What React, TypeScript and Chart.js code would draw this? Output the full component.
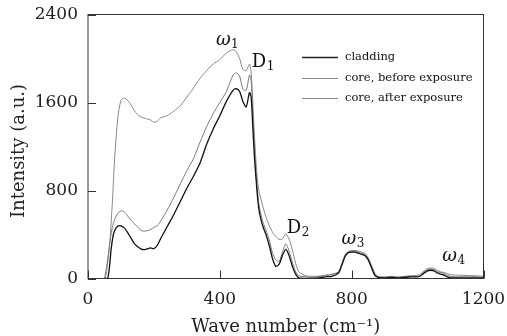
import React, { useEffect, useRef } from "react";
import { Chart, registerables } from "chart.js";

Chart.register(...registerables);

const waveNumbers = [
  50, 55, 60, 65, 70, 75, 80, 90, 100, 110, 120, 130, 140, 150, 160, 170, 180, 190, 200,
  210, 220, 240, 260, 280, 300, 320, 340, 360, 380, 400, 420, 440, 450, 460, 470, 480, 490, 495,
  500, 505, 510, 515, 520, 530, 540, 550, 560, 570, 580, 590, 600, 610, 620, 630, 640, 660, 680,
  700, 720, 740, 760, 770, 780, 790, 800, 810, 820, 830, 840, 850, 860, 870, 880, 900, 920, 940,
  960, 980, 1000, 1010, 1020, 1030, 1040, 1050, 1060, 1070, 1080, 1090, 1100, 1120, 1140, 1160,
  1180, 1200,
];

const cladding = [
  0, 0, 5, 100, 260, 370, 430, 475, 478, 460, 420, 370, 320, 290, 270, 262, 270, 278, 272,
  300, 360, 470, 580, 700, 820, 930, 1050, 1220, 1360, 1480, 1610, 1710, 1725, 1700, 1610, 1560,
  1690, 1650, 1380, 1100, 900, 720, 600, 480, 400, 300, 180, 110, 130, 210, 265, 210, 110, 40,
  5, 0, 0, 5, 15, 20, 50, 120, 200, 235, 240, 240, 230, 220, 210, 170, 100, 30, 10, 5, 10, 5,
  10, 15, 15, 25, 50, 70, 75, 70, 50, 40, 30, 15, 5, 5, 5, 5, 5, 5,
];

const coreBefore = [
  0, 80, 180, 300, 400, 480, 530, 590, 615, 605, 570, 530, 500, 470, 440, 430, 435, 445, 465,
  480, 520, 620, 735, 860, 980, 1090, 1240, 1380, 1500, 1600, 1700, 1850, 1870, 1840, 1720, 1710,
  1850, 1800, 1500, 1200, 950, 770, 650, 520, 440, 350, 230, 170, 155, 240, 315, 250, 150, 60,
  25, 15, 10, 20, 30, 40, 60, 130, 210, 240, 250, 250, 240, 230, 220, 180, 110, 40, 15, 10, 15,
  10, 15, 20, 20, 30, 60, 80, 85, 80, 60, 55, 45, 30, 20, 15, 20, 20, 15, 10,
];

const coreAfter = [
  0, 40, 150, 280, 500, 750, 1050, 1450, 1620, 1640, 1620, 1580, 1530, 1490, 1470, 1460,
  1450, 1440, 1420, 1430, 1460, 1480, 1520, 1570, 1650, 1730, 1820, 1890, 1950, 1990, 2050, 2080,
  2060, 2000, 1900, 1890, 1950, 1870, 1600, 1300, 1050, 870, 780, 660, 560, 480, 420, 380, 355,
  360, 405, 360, 260, 140, 60, 25, 20, 20, 25, 35, 60, 130, 215, 245, 255, 255, 250, 240, 230,
  190, 120, 50, 20, 15, 20, 15, 20, 25, 30, 45, 70, 90, 95, 90, 75, 60, 55, 45, 35, 30, 30, 25,
  25, 20,
];

const seriesLabels = ["cladding", "core, before exposure", "core, after exposure"];
const xTicks = [0, 400, 800, 1200];
const yTicks = [0, 800, 1600, 2400];

// peak labels: [symbol, subscript, wave number, intensity]
const peakLabels: [string, string, number, number][] = [
  ["ω", "1", 388, 2125],
  ["D", "1", 497, 1920],
  ["D", "2", 603, 410],
  ["ω", "3", 769, 315],
  ["ω", "4", 1075, 155],
];

const SERIF = "'DejaVu Serif', serif";

const framePlugin = {
  id: "frameAndExtras",
  afterDraw(chart: any) {
    const { ctx, chartArea } = chart;
    const xs = chart.scales.x;
    const ys = chart.scales.y;
    ctx.save();
    ctx.strokeStyle = "#333";
    ctx.lineWidth = 1;
    ctx.strokeRect(chartArea.left, chartArea.top, chartArea.right - chartArea.left, chartArea.bottom - chartArea.top);
    ctx.beginPath();
    const tl = 8;
    for (const v of xTicks) {
      const px = Math.round(xs.getPixelForValue(v)) + 0.5;
      ctx.moveTo(px, chartArea.bottom);
      ctx.lineTo(px, chartArea.bottom - tl);
    }
    for (const v of yTicks) {
      const py = Math.round(ys.getPixelForValue(v)) + 0.5;
      ctx.moveTo(chartArea.left, py);
      ctx.lineTo(chartArea.left + tl, py);
    }
    ctx.stroke();

    // peak labels
    ctx.fillStyle = "#111";
    ctx.textBaseline = "alphabetic";
    ctx.textAlign = "left";
    for (const [sym, sub, xv, yv] of peakLabels) {
      const px = xs.getPixelForValue(xv);
      const py = ys.getPixelForValue(yv);
      const italic = sym === "ω";
      ctx.font = (italic ? "italic " : "") + "18px " + SERIF;
      ctx.fillText(sym, px, py);
      const w = ctx.measureText(sym).width;
      ctx.font = "12px " + SERIF;
      ctx.fillText(sub, px + w + 0.5, py + 3);
    }

    // legend
    const rows = [57, 78, 98];
    ctx.font = "11.5px " + SERIF;
    ctx.textBaseline = "middle";
    chart.data.datasets.forEach((d: any, i: number) => {
      ctx.strokeStyle = d.legendColor;
      ctx.lineWidth = i === 0 ? 1.3 : 1;
      ctx.beginPath();
      ctx.moveTo(302, rows[i] + 0.5);
      ctx.lineTo(338, rows[i] + 0.5);
      ctx.stroke();
      ctx.fillStyle = "#111";
      ctx.fillText(d.label, 345, rows[i]);
    });
    ctx.restore();
  },
};

const zeroPad = (s: any) => {
  s.paddingTop = 0;
  s.paddingBottom = 0;
  s.paddingLeft = 0;
  s.paddingRight = 0;
};

export default function App() {
  const ref = useRef<HTMLCanvasElement>(null);
  useEffect(() => {
    if (!ref.current) return;
    const mk = (vals: number[]) => waveNumbers.map((x, i) => ({ x, y: vals[i] }));
    const chart = new Chart(ref.current, {
      type: "line",
      data: {
        datasets: [
          { label: seriesLabels[0], data: mk(cladding), borderColor: "#111", borderWidth: 1.3, legendColor: "#222" } as any,
          { label: seriesLabels[1], data: mk(coreBefore), borderColor: "#7a7a7a", borderWidth: 1, legendColor: "#888" } as any,
          { label: seriesLabels[2], data: mk(coreAfter), borderColor: "#888", borderWidth: 1, legendColor: "#888" } as any,
        ],
      },
      options: {
        animation: false,
        responsive: false,
        events: [],
        elements: { point: { radius: 0 }, line: { tension: 0.25 } },
        layout: { padding: { left: 0, top: 14.5, right: 23.5, bottom: 0 } },
        plugins: { legend: { display: false }, tooltip: { enabled: false } },
        scales: {
          x: {
            type: "linear",
            min: 0,
            max: 1200,
            afterBuildTicks: (s: any) => { s.ticks = xTicks.map((v) => ({ value: v })); },
            afterFit: (s: any) => { s.height = 57.5; zeroPad(s); },
            grid: { display: false, drawTicks: false },
            border: { display: false },
            ticks: { font: { family: SERIF, size: 17 }, color: "#222", padding: 11, maxRotation: 0, callback: (v: any) => String(v) },
            title: { display: true, text: "Wave number (cm⁻¹)", font: { family: SERIF, size: 18 }, color: "#222", padding: { top: 0, bottom: -2 } },
          },
          y: {
            type: "linear",
            min: 0,
            max: 2400,
            afterBuildTicks: (s: any) => { s.ticks = yTicks.map((v) => ({ value: v })); },
            afterFit: (s: any) => { s.width = 88; zeroPad(s); },
            grid: { display: false, drawTicks: false },
            border: { display: false },
            ticks: { font: { family: SERIF, size: 17 }, color: "#222", padding: 10, callback: (v: any) => String(v) },
            title: { display: true, text: "Intensity (a.u.)\u2002", font: { family: SERIF, size: 18 }, color: "#222", padding: { top: 9, bottom: 0 } },
          },
        },
      } as any,
      plugins: [framePlugin],
    });
    return () => chart.destroy();
  }, []);
  return (
    <div style={{ position: "fixed", left: 0, top: 0, width: 507, height: 336, background: "#fff" }}>
      <canvas ref={ref} width={507} height={336} style={{ width: 507, height: 336 }} />
    </div>
  );
}
